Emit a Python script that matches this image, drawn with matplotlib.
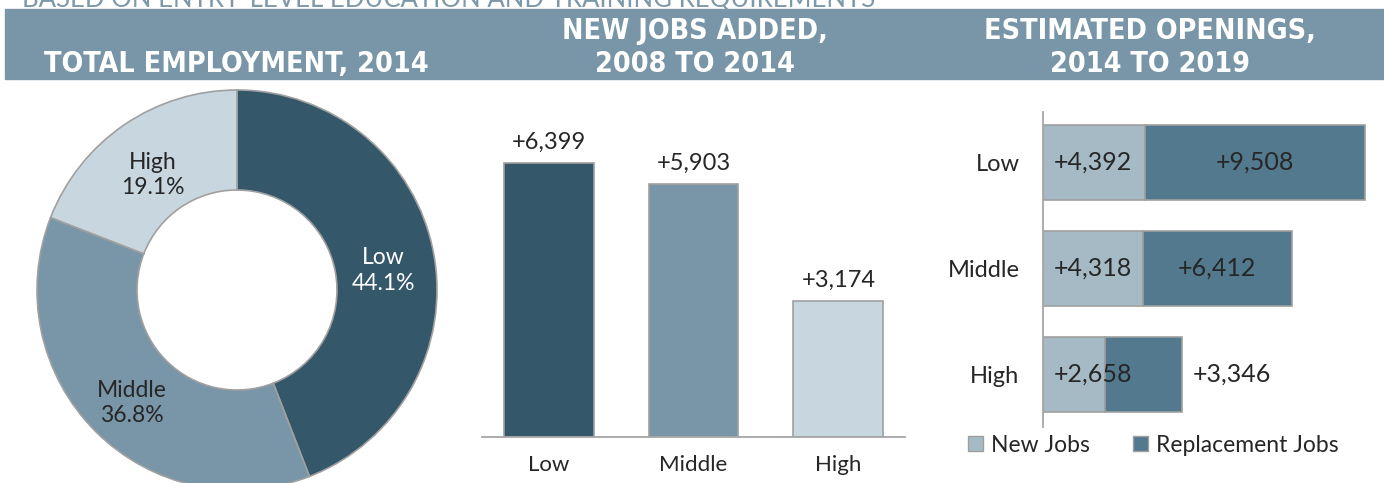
import numpy as np
import matplotlib
matplotlib.use('Agg')
import matplotlib.pyplot as plt
from matplotlib.patches import Rectangle, Patch
from matplotlib import font_manager

# data
levels = ['Low', 'Middle', 'High']
employment_share = [44.1, 36.8, 19.1]
jobs_added = [6399, 5903, 3174]
openings_new = [4392, 4318, 2658]
openings_replacement = [9508, 6412, 3346]

subtitle = 'BASED ON ENTRY-LEVEL EDUCATION AND TRAINING REQUIREMENTS'
headers = [
    (236, ['TOTAL EMPLOYMENT, 2014']),
    (695, ['NEW JOBS ADDED,', '2008 TO 2014']),
    (1150, ['ESTIMATED OPENINGS,', '2014 TO 2019']),
]

# colours
dark = '#34586a'
mid = '#7896a7'
light = '#c8d7df'
new_col = '#a6bac6'
repl_col = '#52798e'
edge = '#a0a0a0'
band_col = '#7896a7'
txt = '#262626'

# a condensed bold face for the header band, if one is installed
cond = [f.fname for f in font_manager.fontManager.ttflist
        if 'condensed' in f.fname.lower() and 'bold' in f.fname.lower()
        and 'oblique' not in f.fname.lower() and 'italic' not in f.fname.lower()]
if cond:
    head_prop = font_manager.FontProperties(fname=sorted(cond)[0], size=20.5)
else:
    head_prop = font_manager.FontProperties(family='DejaVu Sans', weight='bold', size=17)

plt.rcParams['font.family'] = ['Lato', 'DejaVu Sans']

W, H = 1384, 483
fig = plt.figure(figsize=(W / 100, H / 100), dpi=100)


def fx(px):
    return px / W


def fy(py):
    return 1 - py / H


# title strip
fig.text(fx(22), fy(7), subtitle, color='#7d98a8', fontsize=18.5,
         ha='left', va='baseline')
fig.add_artist(Rectangle((fx(5), fy(79)), 1 - fx(5), 70 / H,
                         transform=fig.transFigure, color=band_col, zorder=0))
for xc, lines in headers:
    base = 72 - 33 * (len(lines) - 1)
    for i, line in enumerate(lines):
        fig.text(fx(xc), fy(base + 33 * i), line, ha='center', va='baseline',
                 color='white', fontproperties=head_prop)

# donut: total employment
ax1 = fig.add_axes([fx(37), fy(490), 400 / W, 400 / H])
wedges, _ = ax1.pie(employment_share, colors=[dark, mid, light], startangle=90,
                    counterclock=False, radius=1,
                    wedgeprops=dict(width=0.5, edgecolor=edge, linewidth=1.2))
ax1.set_xlim(-1, 1)
ax1.set_ylim(-1, 1)
ax1.axis('off')
for w, lab, val, c in zip(wedges, levels, employment_share, ['white', txt, txt]):
    ang = np.deg2rad((w.theta1 + w.theta2) / 2)
    ax1.text(0.745 * np.cos(ang), 0.745 * np.sin(ang) - 0.04, f'{lab}\n{val}%',
             ha='center', va='center', fontsize=16.5, color=c, linespacing=1.25)

# column chart: new jobs added
ax2 = fig.add_axes([fx(482), fy(437), 423 / W, 300 / H])
x = np.arange(len(levels))
bars = ax2.bar(x, jobs_added, width=0.62, color=[dark, mid, light],
               edgecolor=edge, linewidth=1.2)
ax2.bar_label(bars, labels=[f'+{v:,}' for v in jobs_added], padding=7,
              fontsize=17, color=txt)
ax2.set_xlim(-0.46, 2.46)
ax2.set_ylim(0, 7000)
for s in ['top', 'right', 'left']:
    ax2.spines[s].set_visible(False)
ax2.spines['bottom'].set_color('#a6a6a6')
ax2.spines['bottom'].set_linewidth(1.3)
ax2.set_yticks([])
ax2.set_xticks(x, levels)
ax2.tick_params(axis='x', length=0, pad=13, labelsize=16, labelcolor=txt)

# stacked bars: estimated openings
ax3 = fig.add_axes([fx(1043), fy(427), 336 / W, 315 / H])
b1 = ax3.barh(x, openings_new, height=0.71, color=new_col, edgecolor=edge,
              linewidth=1.2)
b2 = ax3.barh(x, openings_replacement, left=openings_new, height=0.71,
              color=repl_col, edgecolor=edge, linewidth=1.2)
ax3.set_xlim(0, 14500)
ax3.set_ylim(2.495, -0.476)
for i in range(len(levels)):
    ax3.annotate(f'+{openings_new[i]:,}', (0, i), xytext=(8, 0),
                 textcoords='offset points', ha='left', va='center',
                 fontsize=18, color=txt)
    r = openings_replacement[i]
    if r > 4000:
        ax3.text(openings_new[i] + r / 2, i, f'+{r:,}', ha='center',
                 va='center', fontsize=18, color=txt)
    else:
        ax3.annotate(f'+{r:,}', (openings_new[i] + r, i), xytext=(8, 0),
                     textcoords='offset points', ha='left', va='center',
                     fontsize=18, color=txt)
for s in ['top', 'right', 'bottom']:
    ax3.spines[s].set_visible(False)
ax3.spines['left'].set_color('#a6a6a6')
ax3.spines['left'].set_linewidth(1.3)
ax3.set_xticks([])
ax3.set_yticks(x, levels)
ax3.tick_params(axis='y', length=0, pad=17, labelsize=17, labelcolor=txt)

fig.legend(handles=[Patch(facecolor=new_col, edgecolor=edge),
                    Patch(facecolor=repl_col, edgecolor=edge)],
           labels=['New Jobs', 'Replacement Jobs'], loc='center left',
           bbox_to_anchor=(fx(968), fy(445)), ncol=2, frameon=False,
           handlelength=0.65, handleheight=0.65, handletextpad=0.35,
           columnspacing=1.9, fontsize=16.5, borderpad=0, borderaxespad=0,
           labelcolor=txt)

fig.savefig('out.png', dpi=100)
